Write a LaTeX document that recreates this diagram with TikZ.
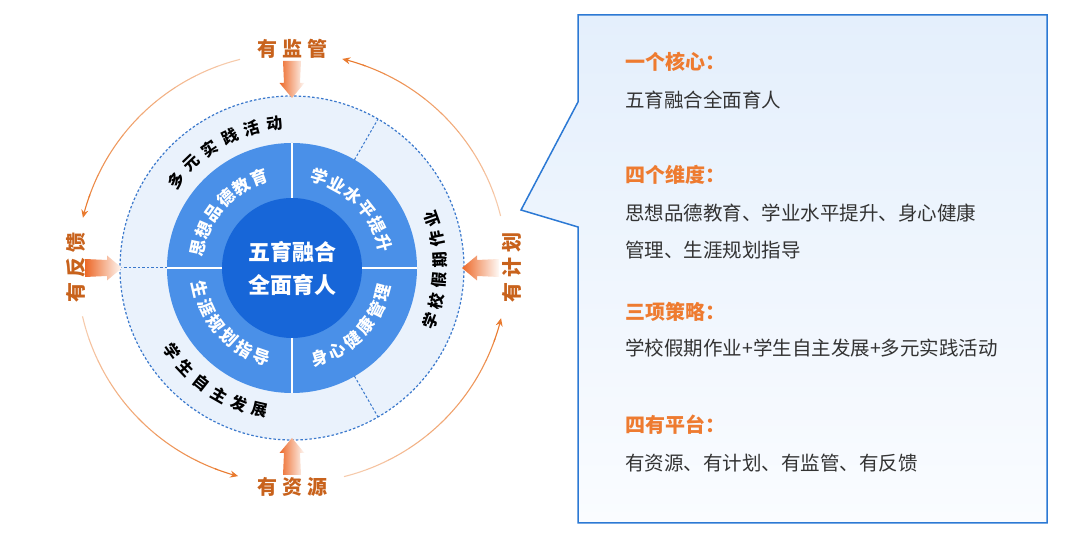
\documentclass[tikz,border=0pt]{standalone}
\usepackage{fontspec}
\setmainfont{Noto Sans CJK SC}
\usepackage{xcolor}
\usepackage{tikz}
\usetikzlibrary{arrows.meta, positioning, calc}

\definecolor{ctrblue}{HTML}{1766D8}
\definecolor{midblue}{HTML}{4A90E8}
\definecolor{ringblue}{HTML}{EAF2FC}
\definecolor{dashblue}{HTML}{3A78CC}
\definecolor{lblorange}{HTML}{C8621C}
\definecolor{arcorange}{HTML}{E97A2E}
\definecolor{headorange}{HTML}{EE7B30}
\definecolor{bodygray}{HTML}{333333}
\definecolor{boxblue}{HTML}{2C79D4}
\definecolor{boxtop}{HTML}{E4EFFC}
\definecolor{boxbot}{HTML}{FAFCFF}

\begin{document}
\begin{tikzpicture}[
    x=1pt, y=1pt,
    ringtxt/.style={font=\fontsize{16}{16}\selectfont\bfseries, text=black, inner sep=0pt},
    dimtxt/.style={font=\fontsize{17}{17}\selectfont\bfseries, text=white, inner sep=0pt},
    lbl/.style={font=\fontsize{20}{20}\selectfont\bfseries, text=lblorange, inner sep=0pt},
    arcseg/.style={line width=1.1pt},
    arcarr/.style={-{Stealth[length=8pt, width=7pt]}, line width=1.1pt, color=arcorange},
    bigarr/.style={left color=arcorange!85!red, right color=arcorange!4, draw=none},
    sepline/.style={dashblue, line width=1pt, dash pattern=on 2.5pt off 2pt},
    head/.style={font=\fontsize{20}{20}\selectfont\bfseries, text=headorange, anchor=west, inner sep=0pt},
    body/.style={font=\fontsize{19.5}{19.5}\selectfont, text=bodygray, anchor=west, inner sep=0pt}
]
\useasboundingbox (0,0) rectangle (1080,543);

% Rings
\coordinate (c) at (292,275);
\fill[ringblue] (c) circle (172);
\draw[sepline, line width=1.2pt] (c) circle (172);
\fill[midblue] (c) circle (125);
\node[circle, fill=ctrblue, minimum size=140pt, inner sep=0pt, align=center,
      font=\fontsize{22}{33}\selectfont\bfseries, text=white] (core) at (c) {五育融合\\全面育人};

\foreach \a in {0,90,180,270}
  \draw[white, line width=1.5pt] ([shift={(\a:70)}]c) -- ([shift={(\a:125)}]c);
\foreach \a in {60,180,300}
  \draw[sepline] ([shift={(\a:125)}]c) -- ([shift={(\a:172)}]c);

% Four dimensions
\foreach \ch [count=\i, evaluate=\i as \a using 168-(\i-1)*11.6] in {思,想,品,德,教,育}
  \node[dimtxt, rotate=\a-90] (sx\i) at ([shift={(\a:96)}]c) {\ch};
\foreach \ch [count=\i, evaluate=\i as \a using 73-(\i-1)*11.6] in {学,业,水,平,提,升}
  \node[dimtxt, rotate=\a-90] (xy\i) at ([shift={(\a:95)}]c) {\ch};
\foreach \ch [count=\i, evaluate=\i as \a using -73+(\i-1)*11.6] in {身,心,健,康,管,理}
  \node[dimtxt, rotate=\a+90] (sxin\i) at ([shift={(\a:94)}]c) {\ch};
\foreach \ch [count=\i, evaluate=\i as \a using 193+(\i-1)*11.6] in {生,涯,规,划,指,导}
  \node[dimtxt, rotate=\a+90] (sy\i) at ([shift={(\a:94)}]c) {\ch};

% Three strategies
\foreach \ch [count=\i, evaluate=\i as \a using 143-(\i-1)*9.2] in {多,元,实,践,活,动}
  \node[ringtxt, rotate=\a-90] (dy\i) at ([shift={(\a:145)}]c) {\ch};
\foreach \ch [count=\i, evaluate=\i as \a using -21+(\i-1)*8.1] in {学,校,假,期,作,业}
  \node[ringtxt, rotate=\a+90] (xx\i) at ([shift={(\a:148)}]c) {\ch};
\foreach \ch [count=\i, evaluate=\i as \a using 215+(\i-1)*8.4] in {学,生,自,主,发,展}
  \node[ringtxt, rotate=\a+90] (xs\i) at ([shift={(\a:146)}]c) {\ch};

% Four platforms
\foreach \a in {0,90,180,270}
  \shade[bigarr, shift={(c)}, rotate=\a]
    (170,0) -- (185,12.5) -- (185,8) -- (207,9) -- (207,-9) -- (185,-8) -- (185,-12.5) -- cycle;

\node[lbl] (jianguan) at ([shift={(90:219)}]c) {有\hspace{5pt}监\hspace{5pt}管};
\node[lbl] (ziyuan) at ([shift={(270:219)}]c) {有\hspace{5pt}资\hspace{5pt}源};
\node[lbl, rotate=90] (fankui) at ([shift={(180:216)}]c) {有\hspace{5pt}反\hspace{5pt}馈};
\node[lbl, rotate=90] (jihua) at ([shift={(0:220)}]c) {有\hspace{5pt}计\hspace{5pt}划};

% cycle arcs, fading in from their start
\foreach \s in {14,104,193,284} {
  \foreach \k in {0,...,8}
    \draw[arcseg, color=arcorange!\k0!white!60!arcorange]
      ([shift={(\s+\k*6.3:215)}]c) arc[start angle=\s+\k*6.3, end angle=\s+\k*6.3+6.4, radius=215];
  \draw[arcarr] ([shift={(\s+56:215)}]c) arc[start angle=\s+56, end angle=\s+62.5, radius=215];
}

% Callout
\draw[boxblue, line width=1.5pt, top color=boxtop, bottom color=boxbot]
  (578,528) -- (1047,528) -- (1047,20) -- (578,20) -- (578,316) -- (521,333) -- (578,441) -- cycle;

\node[head] (h1) at (625,481) {一个核心：};
\node[body] (b1) at (625,443) {五育融合全面育人};
\node[head] (h2) at (625,368) {四个维度：};
\node[body] (b2) at (625,330) {思想品德教育、学业水平提升、身心健康};
\node[body] (b3) at (625,293) {管理、生涯规划指导};
\node[head] (h3) at (625,231) {三项策略：};
\node[body] (b4) at (625,195) {学校假期作业+学生自主发展+多元实践活动};
\node[head] (h4) at (625,118) {四有平台：};
\node[body] (b5) at (625,80) {有资源、有计划、有监管、有反馈};

\end{tikzpicture}
\end{document}
